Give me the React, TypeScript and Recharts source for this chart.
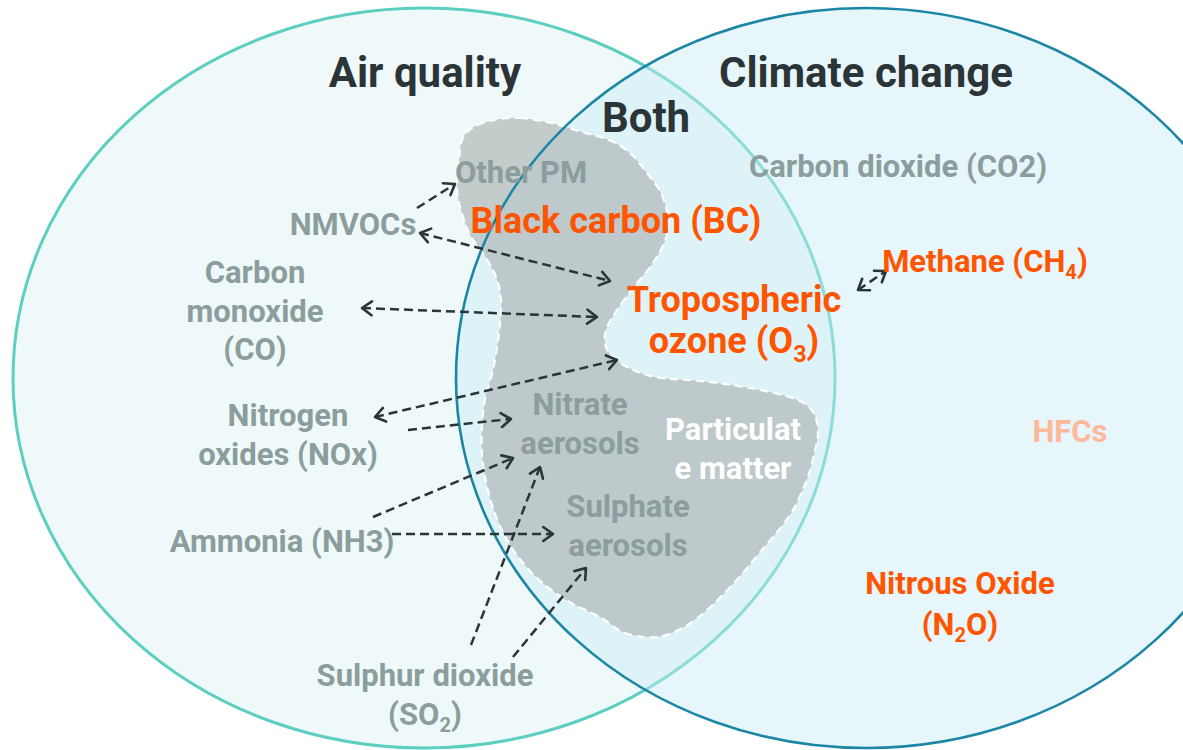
import React from 'react';
import { ScatterChart, Scatter, XAxis, YAxis } from 'recharts';

const CHART_W = 1183;
const CHART_H = 750;
const X_DOMAIN: [number, number] = [0, 1183];
const Y_DOMAIN: [number, number] = [0, 750];
const KX = CHART_W / (X_DOMAIN[1] - X_DOMAIN[0]);
const KY = CHART_H / (Y_DOMAIN[1] - Y_DOMAIN[0]);

// ---------- data ----------
const airQualityCircle = [{ x: 424, y: 378, rx: 411, ry: 370 }];
const climateCircle = [{ x: 866, y: 378, rx: 410, ry: 370 }];

const blobX = [520, 551, 582, 609, 630, 647, 661, 668, 666, 653, 634, 617, 606, 606, 616, 638, 661, 700, 750, 795, 813, 818, 814, 806, 790, 762, 734, 707, 684, 657, 625, 600, 566, 536, 510, 492, 482, 484, 493, 499, 501, 496, 483, 470, 460, 457, 459, 462, 472, 494];
const blobY = [118, 123, 132, 140, 153, 173, 193, 217, 238, 263, 287, 310, 330, 347, 360, 372, 378, 381, 388, 399, 412, 432, 455, 482, 515, 550, 583, 610, 627, 637, 633, 617, 600, 577, 545, 505, 455, 405, 370, 333, 300, 277, 253, 235, 207, 187, 160, 140, 128, 120];

const arrowFrom: [number, number][] = [[417, 208], [420, 233], [362, 308], [375, 417], [408, 430], [373, 517], [392, 534], [471, 645], [513, 657], [858, 290]];
const arrowTo: [number, number][] = [[455, 184], [610, 281], [597, 317], [617, 360], [511, 419], [513, 458], [553, 534], [540, 467], [586, 568], [886, 271]];
const arrowBoth = [false, true, true, true, false, false, false, false, false, true];

const titleLabels = [
  { x: 425, y: 87, lines: ['Air quality'] },
  { x: 866, y: 87, lines: ['Climate change'] },
  { x: 646, y: 132, lines: ['Both'] },
];
const grayLabels = [
  { x: 521, y: 183, lines: ['Other PM'] },
  { x: 353, y: 235, lines: ['NMVOCs'] },
  { x: 255, y: 283, lines: ['Carbon', 'monoxide', '(CO)'] },
  { x: 288, y: 426, lines: ['Nitrogen', 'oxides (NOx)'] },
  { x: 282, y: 552, lines: ['Ammonia (NH3)'] },
  { x: 425, y: 686, lines: ['Sulphur dioxide', '(SO_2)'] },
  { x: 580, y: 415, lines: ['Nitrate', 'aerosols'] },
  { x: 628, y: 517, lines: ['Sulphate', 'aerosols'] },
  { x: 898, y: 177, lines: ['Carbon dioxide (CO2)'] },
];
const orangeLargeLabels = [
  { x: 616, y: 233, lines: ['Black carbon (BC)'] },
  { x: 734, y: 312, lines: ['Tropospheric', 'ozone (O_3)'] },
];
const orangeLabels = [
  { x: 985, y: 272, lines: ['Methane (CH_4)'] },
  { x: 960, y: 594, lines: ['Nitrous Oxide', '(N_2O)'] },
];
const whiteLabels = [{ x: 733, y: 440, lines: ['Particulat', 'e matter'] }];
const paleLabels = [{ x: 1070, y: 442, lines: ['HFCs'] }];

// ---------- styles ----------
const FONT = 'Roboto, "Noto Sans", sans-serif';
const ARROW_COLOR = '#2b3436';

const blobData = blobX.map((x, i) => ({ x, y: blobY[i] }));

function closedCurve(pts: { x: number; y: number }[]) {
  const n = pts.length;
  let d = `M${pts[0].x},${pts[0].y}`;
  for (let i = 0; i < n; i++) {
    const p0 = pts[(i - 1 + n) % n];
    const p1 = pts[i];
    const p2 = pts[(i + 1) % n];
    const p3 = pts[(i + 2) % n];
    const c1x = p1.x + (p2.x - p0.x) / 6;
    const c1y = p1.y + (p2.y - p0.y) / 6;
    const c2x = p2.x - (p3.x - p1.x) / 6;
    const c2y = p2.y - (p3.y - p1.y) / 6;
    d += `C${c1x},${c1y} ${c2x},${c2y} ${p2.x},${p2.y}`;
  }
  return d + 'Z';
}

function headPath(tip: { x: number; y: number }, from: { x: number; y: number }) {
  const ang = Math.atan2(tip.y - from.y, tip.x - from.x);
  const L = 12;
  const s = 0.62;
  return `M${tip.x - L * Math.cos(ang - s)},${tip.y - L * Math.sin(ang - s)}L${tip.x},${tip.y}L${tip.x - L * Math.cos(ang + s)},${tip.y - L * Math.sin(ang + s)}`;
}

function makeArrowLine(both: boolean) {
  return (p: any) => {
    const pts = p.points || [];
    if (pts.length < 2) return <g />;
    const a = pts[0];
    const b = pts[1];
    return (
      <g>
        <path d={`M${a.x},${a.y}L${b.x},${b.y}`} stroke={ARROW_COLOR} strokeWidth={2.5} strokeDasharray="9 5" fill="none" />
        <path d={headPath(b, a)} stroke={ARROW_COLOR} strokeWidth={2.6} fill="none" strokeLinecap="round" strokeLinejoin="round" />
        {both && <path d={headPath(a, b)} stroke={ARROW_COLOR} strokeWidth={2.6} fill="none" strokeLinecap="round" strokeLinejoin="round" />}
      </g>
    );
  };
}

function renderLine(ln: string, fs: number) {
  const parts = ln.split(/(_\d)/).filter((s) => s.length > 0);
  const out: React.ReactNode[] = [];
  let lowered = false;
  const shift = fs * 0.24;
  parts.forEach((part, i) => {
    if (part.startsWith('_')) {
      out.push(
        <tspan key={i} fontSize={fs * 0.65} dy={shift}>
          {part.slice(1)}
        </tspan>
      );
      lowered = true;
    } else {
      out.push(
        <tspan key={i} dy={lowered ? -shift : 0}>
          {part}
        </tspan>
      );
      lowered = false;
    }
  });
  return out;
}

function makeLabelShape(fontSize: number, fill: string, lineHeight: number) {
  return (p: any) => {
    const lines: string[] = p.payload.lines;
    return (
      <text x={p.cx} y={p.cy} textAnchor="middle" fontFamily={FONT} fontWeight={700} fontSize={fontSize} fill={fill}>
        {lines.map((ln, i) => (
          <tspan key={i} x={p.cx} y={p.cy + i * lineHeight}>
            {renderLine(ln, fontSize)}
          </tspan>
        ))}
      </text>
    );
  };
}

const noSymbol = () => <g />;

export default function App() {
  return (
    <div style={{ position: 'absolute', left: 0, top: 0, width: CHART_W, height: CHART_H, background: '#ffffff' }}>
      <ScatterChart width={CHART_W} height={CHART_H} margin={{ top: 0, right: 0, bottom: 0, left: 0 }}>
        <XAxis type="number" dataKey="x" domain={X_DOMAIN} hide allowDataOverflow />
        <YAxis type="number" dataKey="y" domain={Y_DOMAIN} hide reversed allowDataOverflow />

        <Scatter
          data={airQualityCircle}
          isAnimationActive={false}
          shape={(p: any) => (
            <ellipse cx={p.cx} cy={p.cy} rx={p.payload.rx * KX} ry={p.payload.ry * KY} fill="#f0f9f9" stroke="#5ccfc1" strokeWidth={3} />
          )}
        />
        <Scatter
          data={climateCircle}
          isAnimationActive={false}
          shape={(p: any) => (
            <ellipse cx={p.cx} cy={p.cy} rx={p.payload.rx * KX} ry={p.payload.ry * KY} fill="rgb(200,235,245)" fillOpacity={0.45} stroke="none" />
          )}
        />
        <Scatter
          data={blobData}
          isAnimationActive={false}
          shape={noSymbol}
          line={(p: any) => (
            <path d={closedCurve(p.points)} fill="#a9afaf" fillOpacity={0.62} stroke="#ffffff" strokeWidth={2.2} strokeDasharray="8 5" />
          )}
        />
        <Scatter
          data={climateCircle}
          isAnimationActive={false}
          shape={(p: any) => (
            <ellipse cx={p.cx} cy={p.cy} rx={p.payload.rx * KX} ry={p.payload.ry * KY} fill="none" stroke="#1b87a5" strokeWidth={2.6} />
          )}
        />

        {arrowFrom.map((f, i) => (
          <Scatter
            key={`arrow-${i}`}
            data={[{ x: f[0], y: f[1] }, { x: arrowTo[i][0], y: arrowTo[i][1] }]}
            isAnimationActive={false}
            shape={noSymbol}
            line={makeArrowLine(arrowBoth[i])}
          />
        ))}

        <Scatter data={titleLabels} isAnimationActive={false} shape={makeLabelShape(42, '#2b3436', 46)} />
        <Scatter data={grayLabels} isAnimationActive={false} shape={makeLabelShape(31, '#8c9d9d', 38.5)} />
        <Scatter data={orangeLargeLabels} isAnimationActive={false} shape={makeLabelShape(36, '#ff5500', 41)} />
        <Scatter data={orangeLabels} isAnimationActive={false} shape={makeLabelShape(31, '#ff5500', 41)} />
        <Scatter data={whiteLabels} isAnimationActive={false} shape={makeLabelShape(31, '#ffffff', 39)} />
        <Scatter data={paleLabels} isAnimationActive={false} shape={makeLabelShape(31, '#ffb899', 38)} />
      </ScatterChart>
    </div>
  );
}
